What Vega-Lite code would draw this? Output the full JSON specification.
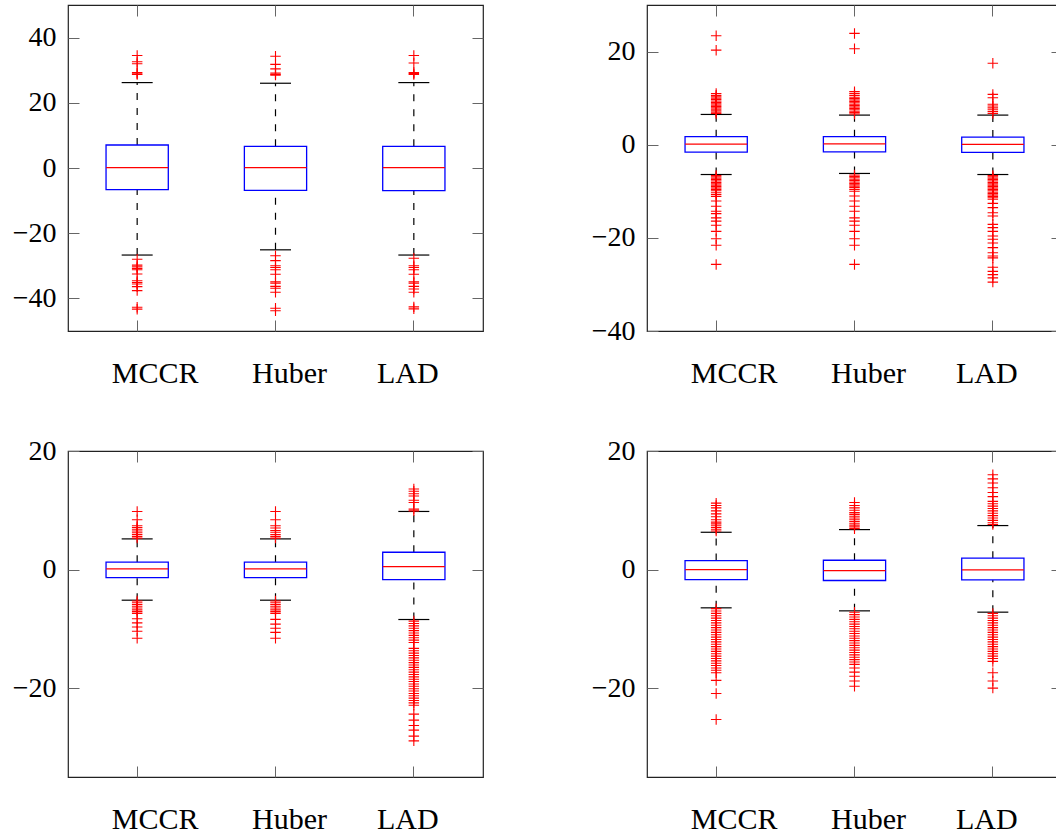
{
"$schema": "https://vega.github.io/schema/vega-lite/v6.json",
"background": "white",
"padding": {"left": 11, "top": 3, "right": -7, "bottom": 0},
"config": {"view": {"stroke": "#222", "strokeWidth": 1.2}, "axis": {"labelFont": "Liberation Serif, DejaVu Serif, serif"}},
"datasets": {
"boxes": [
{"p":1,"m":"MCCR","lo":-26.7,"q1":-6.65,"med":0.1,"q3":7.06,"hi":26.2},
{"p":1,"m":"Huber","lo":-25.1,"q1":-6.85,"med":0.1,"q3":6.65,"hi":26.0},
{"p":1,"m":"LAD","lo":-26.7,"q1":-6.95,"med":0.1,"q3":6.65,"hi":26.2},
{"p":2,"m":"MCCR","lo":-6.4,"q1":-1.59,"med":0.13,"q3":1.72,"hi":6.5},
{"p":2,"m":"Huber","lo":-6.17,"q1":-1.52,"med":0.2,"q3":1.72,"hi":6.36},
{"p":2,"m":"LAD","lo":-6.4,"q1":-1.65,"med":0.06,"q3":1.64,"hi":6.36},
{"p":3,"m":"MCCR","lo":-5.17,"q1":-1.35,"med":0.11,"q3":1.24,"hi":5.17},
{"p":3,"m":"Huber","lo":-5.17,"q1":-1.35,"med":0.11,"q3":1.24,"hi":5.17},
{"p":3,"m":"LAD","lo":-8.43,"q1":-1.69,"med":0.5,"q3":2.92,"hi":9.8},
{"p":4,"m":"MCCR","lo":-6.46,"q1":-1.69,"med":0.0,"q3":1.52,"hi":6.29},
{"p":4,"m":"Huber","lo":-6.97,"q1":-1.85,"med":-0.17,"q3":1.57,"hi":6.74},
{"p":4,"m":"LAD","lo":-7.19,"q1":-1.74,"med":-0.06,"q3":1.91,"hi":7.42}
],
"outl": [
{"p":1,"m":"MCCR","v":34.5},{"p":1,"m":"MCCR","v":32.6},{"p":1,"m":"MCCR","v":32.0},{"p":1,"m":"MCCR","v":29.3},{"p":1,"m":"MCCR","v":28.9},{"p":1,"m":"MCCR","v":28.7},
{"p":1,"m":"MCCR","v":-28.0},{"p":1,"m":"MCCR","v":-29.8},{"p":1,"m":"MCCR","v":-30.3},{"p":1,"m":"MCCR","v":-30.8},{"p":1,"m":"MCCR","v":-31.2},{"p":1,"m":"MCCR","v":-32.5},{"p":1,"m":"MCCR","v":-34.6},{"p":1,"m":"MCCR","v":-35.1},{"p":1,"m":"MCCR","v":-35.6},{"p":1,"m":"MCCR","v":-36.4},{"p":1,"m":"MCCR","v":-37.6},{"p":1,"m":"MCCR","v":-42.7},{"p":1,"m":"MCCR","v":-43.3},
{"p":1,"m":"Huber","v":34.3},{"p":1,"m":"Huber","v":31.8},{"p":1,"m":"Huber","v":30.4},{"p":1,"m":"Huber","v":29.1},{"p":1,"m":"Huber","v":28.7},{"p":1,"m":"Huber","v":28.5},
{"p":1,"m":"Huber","v":-26.9},{"p":1,"m":"Huber","v":-28.4},{"p":1,"m":"Huber","v":-30.0},{"p":1,"m":"Huber","v":-30.5},{"p":1,"m":"Huber","v":-31.2},{"p":1,"m":"Huber","v":-32.6},{"p":1,"m":"Huber","v":-34.9},{"p":1,"m":"Huber","v":-35.3},{"p":1,"m":"Huber","v":-36.3},{"p":1,"m":"Huber","v":-36.9},{"p":1,"m":"Huber","v":-38.1},{"p":1,"m":"Huber","v":-43.0},{"p":1,"m":"Huber","v":-43.8},
{"p":1,"m":"LAD","v":34.5},{"p":1,"m":"LAD","v":32.2},{"p":1,"m":"LAD","v":29.3},{"p":1,"m":"LAD","v":29.0},{"p":1,"m":"LAD","v":28.7},
{"p":1,"m":"LAD","v":-27.7},{"p":1,"m":"LAD","v":-30.0},{"p":1,"m":"LAD","v":-30.5},{"p":1,"m":"LAD","v":-31.2},{"p":1,"m":"LAD","v":-32.6},{"p":1,"m":"LAD","v":-34.9},{"p":1,"m":"LAD","v":-35.3},{"p":1,"m":"LAD","v":-36.3},{"p":1,"m":"LAD","v":-37.1},{"p":1,"m":"LAD","v":-38.1},{"p":1,"m":"LAD","v":-42.6},{"p":1,"m":"LAD","v":-43.2},

{"p":2,"m":"MCCR","v":23.4},{"p":2,"m":"MCCR","v":20.3},{"p":2,"m":"MCCR","v":6.7},{"p":2,"m":"MCCR","v":7.0},{"p":2,"m":"MCCR","v":7.3},{"p":2,"m":"MCCR","v":7.6},{"p":2,"m":"MCCR","v":7.9},{"p":2,"m":"MCCR","v":8.2},{"p":2,"m":"MCCR","v":8.5},{"p":2,"m":"MCCR","v":8.8},{"p":2,"m":"MCCR","v":9.1},{"p":2,"m":"MCCR","v":9.4},{"p":2,"m":"MCCR","v":9.7},{"p":2,"m":"MCCR","v":10.0},{"p":2,"m":"MCCR","v":10.3},{"p":2,"m":"MCCR","v":10.6},{"p":2,"m":"MCCR","v":11.0},
{"p":2,"m":"MCCR","v":-6.6},{"p":2,"m":"MCCR","v":-6.9},{"p":2,"m":"MCCR","v":-7.2},{"p":2,"m":"MCCR","v":-7.5},{"p":2,"m":"MCCR","v":-7.8},{"p":2,"m":"MCCR","v":-8.1},{"p":2,"m":"MCCR","v":-8.4},{"p":2,"m":"MCCR","v":-8.7},{"p":2,"m":"MCCR","v":-9.0},{"p":2,"m":"MCCR","v":-9.3},{"p":2,"m":"MCCR","v":-9.6},{"p":2,"m":"MCCR","v":-9.9},{"p":2,"m":"MCCR","v":-10.3},{"p":2,"m":"MCCR","v":-10.7},{"p":2,"m":"MCCR","v":-11.1},{"p":2,"m":"MCCR","v":-12.1},{"p":2,"m":"MCCR","v":-13.2},{"p":2,"m":"MCCR","v":-14.3},{"p":2,"m":"MCCR","v":-14.8},{"p":2,"m":"MCCR","v":-15.7},{"p":2,"m":"MCCR","v":-16.4},{"p":2,"m":"MCCR","v":-17.3},{"p":2,"m":"MCCR","v":-18.6},{"p":2,"m":"MCCR","v":-20.2},{"p":2,"m":"MCCR","v":-21.6},{"p":2,"m":"MCCR","v":-25.7},
{"p":2,"m":"Huber","v":23.9},{"p":2,"m":"Huber","v":20.6},{"p":2,"m":"Huber","v":6.6},{"p":2,"m":"Huber","v":6.9},{"p":2,"m":"Huber","v":7.2},{"p":2,"m":"Huber","v":7.5},{"p":2,"m":"Huber","v":7.8},{"p":2,"m":"Huber","v":8.1},{"p":2,"m":"Huber","v":8.4},{"p":2,"m":"Huber","v":8.7},{"p":2,"m":"Huber","v":9.0},{"p":2,"m":"Huber","v":9.3},{"p":2,"m":"Huber","v":9.6},{"p":2,"m":"Huber","v":9.9},{"p":2,"m":"Huber","v":10.2},{"p":2,"m":"Huber","v":10.6},{"p":2,"m":"Huber","v":11.0},{"p":2,"m":"Huber","v":11.4},
{"p":2,"m":"Huber","v":-6.5},{"p":2,"m":"Huber","v":-6.8},{"p":2,"m":"Huber","v":-7.1},{"p":2,"m":"Huber","v":-7.4},{"p":2,"m":"Huber","v":-7.7},{"p":2,"m":"Huber","v":-8.0},{"p":2,"m":"Huber","v":-8.3},{"p":2,"m":"Huber","v":-8.6},{"p":2,"m":"Huber","v":-8.9},{"p":2,"m":"Huber","v":-9.2},{"p":2,"m":"Huber","v":-9.6},{"p":2,"m":"Huber","v":-10.0},{"p":2,"m":"Huber","v":-11.0},{"p":2,"m":"Huber","v":-12.1},{"p":2,"m":"Huber","v":-13.2},{"p":2,"m":"Huber","v":-14.3},{"p":2,"m":"Huber","v":-15.7},{"p":2,"m":"Huber","v":-16.4},{"p":2,"m":"Huber","v":-17.3},{"p":2,"m":"Huber","v":-18.6},{"p":2,"m":"Huber","v":-20.2},{"p":2,"m":"Huber","v":-21.6},{"p":2,"m":"Huber","v":-25.7},
{"p":2,"m":"LAD","v":17.5},{"p":2,"m":"LAD","v":10.8},{"p":2,"m":"LAD","v":10.1},{"p":2,"m":"LAD","v":8.7},{"p":2,"m":"LAD","v":8.3},{"p":2,"m":"LAD","v":7.9},{"p":2,"m":"LAD","v":7.5},{"p":2,"m":"LAD","v":7.1},{"p":2,"m":"LAD","v":6.7},
{"p":2,"m":"LAD","v":-6.6},{"p":2,"m":"LAD","v":-6.9},{"p":2,"m":"LAD","v":-7.2},{"p":2,"m":"LAD","v":-7.5},{"p":2,"m":"LAD","v":-7.8},{"p":2,"m":"LAD","v":-8.1},{"p":2,"m":"LAD","v":-8.4},{"p":2,"m":"LAD","v":-8.7},{"p":2,"m":"LAD","v":-9.0},{"p":2,"m":"LAD","v":-9.3},{"p":2,"m":"LAD","v":-9.6},{"p":2,"m":"LAD","v":-9.9},{"p":2,"m":"LAD","v":-10.2},{"p":2,"m":"LAD","v":-10.5},{"p":2,"m":"LAD","v":-10.8},{"p":2,"m":"LAD","v":-11.1},{"p":2,"m":"LAD","v":-11.4},{"p":2,"m":"LAD","v":-11.7},{"p":2,"m":"LAD","v":-12.6},{"p":2,"m":"LAD","v":-13.5},{"p":2,"m":"LAD","v":-14.6},{"p":2,"m":"LAD","v":-15.3},{"p":2,"m":"LAD","v":-17.1},{"p":2,"m":"LAD","v":-17.8},{"p":2,"m":"LAD","v":-18.6},{"p":2,"m":"LAD","v":-19.6},{"p":2,"m":"LAD","v":-20.3},{"p":2,"m":"LAD","v":-21.1},{"p":2,"m":"LAD","v":-22.1},{"p":2,"m":"LAD","v":-23.2},{"p":2,"m":"LAD","v":-23.9},{"p":2,"m":"LAD","v":-24.3},{"p":2,"m":"LAD","v":-26.3},{"p":2,"m":"LAD","v":-27.2},{"p":2,"m":"LAD","v":-27.9},{"p":2,"m":"LAD","v":-28.6},{"p":2,"m":"LAD","v":-29.5},

{"p":3,"m":"MCCR","v":9.8},{"p":3,"m":"MCCR","v":8.4},{"p":3,"m":"MCCR","v":7.4},{"p":3,"m":"MCCR","v":7.1},{"p":3,"m":"MCCR","v":6.8},{"p":3,"m":"MCCR","v":6.5},{"p":3,"m":"MCCR","v":6.2},{"p":3,"m":"MCCR","v":5.9},{"p":3,"m":"MCCR","v":5.6},{"p":3,"m":"MCCR","v":5.3},
{"p":3,"m":"MCCR","v":-5.3},{"p":3,"m":"MCCR","v":-5.6},{"p":3,"m":"MCCR","v":-5.9},{"p":3,"m":"MCCR","v":-6.2},{"p":3,"m":"MCCR","v":-6.5},{"p":3,"m":"MCCR","v":-6.8},{"p":3,"m":"MCCR","v":-7.1},{"p":3,"m":"MCCR","v":-7.4},{"p":3,"m":"MCCR","v":-8.3},{"p":3,"m":"MCCR","v":-9.0},{"p":3,"m":"MCCR","v":-9.7},{"p":3,"m":"MCCR","v":-10.4},{"p":3,"m":"MCCR","v":-11.6},
{"p":3,"m":"Huber","v":9.8},{"p":3,"m":"Huber","v":8.4},{"p":3,"m":"Huber","v":7.4},{"p":3,"m":"Huber","v":7.0},{"p":3,"m":"Huber","v":6.6},{"p":3,"m":"Huber","v":6.3},{"p":3,"m":"Huber","v":5.9},{"p":3,"m":"Huber","v":5.6},{"p":3,"m":"Huber","v":5.3},
{"p":3,"m":"Huber","v":-5.3},{"p":3,"m":"Huber","v":-5.6},{"p":3,"m":"Huber","v":-5.9},{"p":3,"m":"Huber","v":-6.2},{"p":3,"m":"Huber","v":-6.5},{"p":3,"m":"Huber","v":-6.8},{"p":3,"m":"Huber","v":-7.1},{"p":3,"m":"Huber","v":-7.4},{"p":3,"m":"Huber","v":-8.4},{"p":3,"m":"Huber","v":-9.2},{"p":3,"m":"Huber","v":-9.9},{"p":3,"m":"Huber","v":-10.6},{"p":3,"m":"Huber","v":-11.6},
{"p":3,"m":"LAD","v":13.6},{"p":3,"m":"LAD","v":13.2},{"p":3,"m":"LAD","v":12.8},{"p":3,"m":"LAD","v":12.4},{"p":3,"m":"LAD","v":11.7},{"p":3,"m":"LAD","v":11.3},{"p":3,"m":"LAD","v":10.2},{"p":3,"m":"LAD","v":9.9},
{"p":3,"m":"LAD","v":-8.7},{"p":3,"m":"LAD","v":-9.1},{"p":3,"m":"LAD","v":-9.5},{"p":3,"m":"LAD","v":-9.9},{"p":3,"m":"LAD","v":-10.3},{"p":3,"m":"LAD","v":-10.7},{"p":3,"m":"LAD","v":-11.1},{"p":3,"m":"LAD","v":-11.5},{"p":3,"m":"LAD","v":-11.9},{"p":3,"m":"LAD","v":-12.3},{"p":3,"m":"LAD","v":-13.3},{"p":3,"m":"LAD","v":-13.7},{"p":3,"m":"LAD","v":-14.1},{"p":3,"m":"LAD","v":-14.5},{"p":3,"m":"LAD","v":-14.9},{"p":3,"m":"LAD","v":-15.3},{"p":3,"m":"LAD","v":-15.7},{"p":3,"m":"LAD","v":-16.1},{"p":3,"m":"LAD","v":-16.5},{"p":3,"m":"LAD","v":-16.9},{"p":3,"m":"LAD","v":-17.3},{"p":3,"m":"LAD","v":-17.7},{"p":3,"m":"LAD","v":-18.1},{"p":3,"m":"LAD","v":-18.5},{"p":3,"m":"LAD","v":-18.9},{"p":3,"m":"LAD","v":-19.3},{"p":3,"m":"LAD","v":-19.7},{"p":3,"m":"LAD","v":-20.1},{"p":3,"m":"LAD","v":-20.5},{"p":3,"m":"LAD","v":-20.9},{"p":3,"m":"LAD","v":-21.3},{"p":3,"m":"LAD","v":-21.7},{"p":3,"m":"LAD","v":-22.1},{"p":3,"m":"LAD","v":-22.5},{"p":3,"m":"LAD","v":-22.9},{"p":3,"m":"LAD","v":-24.4},{"p":3,"m":"LAD","v":-25.4},{"p":3,"m":"LAD","v":-26.3},{"p":3,"m":"LAD","v":-27.1},{"p":3,"m":"LAD","v":-28.1},{"p":3,"m":"LAD","v":-28.9},

{"p":4,"m":"MCCR","v":6.5},{"p":4,"m":"MCCR","v":6.8},{"p":4,"m":"MCCR","v":7.1},{"p":4,"m":"MCCR","v":7.4},{"p":4,"m":"MCCR","v":7.7},{"p":4,"m":"MCCR","v":8.0},{"p":4,"m":"MCCR","v":8.4},{"p":4,"m":"MCCR","v":8.9},{"p":4,"m":"MCCR","v":9.4},{"p":4,"m":"MCCR","v":9.9},{"p":4,"m":"MCCR","v":10.4},{"p":4,"m":"MCCR","v":10.8},{"p":4,"m":"MCCR","v":11.2},
{"p":4,"m":"MCCR","v":-6.6},{"p":4,"m":"MCCR","v":-7.0},{"p":4,"m":"MCCR","v":-7.4},{"p":4,"m":"MCCR","v":-7.8},{"p":4,"m":"MCCR","v":-8.2},{"p":4,"m":"MCCR","v":-8.6},{"p":4,"m":"MCCR","v":-9.0},{"p":4,"m":"MCCR","v":-9.4},{"p":4,"m":"MCCR","v":-9.8},{"p":4,"m":"MCCR","v":-10.2},{"p":4,"m":"MCCR","v":-10.6},{"p":4,"m":"MCCR","v":-11.0},{"p":4,"m":"MCCR","v":-11.4},{"p":4,"m":"MCCR","v":-11.8},{"p":4,"m":"MCCR","v":-12.2},{"p":4,"m":"MCCR","v":-12.6},{"p":4,"m":"MCCR","v":-13.0},{"p":4,"m":"MCCR","v":-13.4},{"p":4,"m":"MCCR","v":-13.8},{"p":4,"m":"MCCR","v":-14.2},{"p":4,"m":"MCCR","v":-14.6},{"p":4,"m":"MCCR","v":-15.0},{"p":4,"m":"MCCR","v":-15.4},{"p":4,"m":"MCCR","v":-15.8},{"p":4,"m":"MCCR","v":-16.2},{"p":4,"m":"MCCR","v":-16.6},{"p":4,"m":"MCCR","v":-17.0},{"p":4,"m":"MCCR","v":-17.4},{"p":4,"m":"MCCR","v":-18.7},{"p":4,"m":"MCCR","v":-20.9},{"p":4,"m":"MCCR","v":-25.3},
{"p":4,"m":"Huber","v":6.9},{"p":4,"m":"Huber","v":7.2},{"p":4,"m":"Huber","v":7.5},{"p":4,"m":"Huber","v":7.8},{"p":4,"m":"Huber","v":8.1},{"p":4,"m":"Huber","v":8.4},{"p":4,"m":"Huber","v":8.7},{"p":4,"m":"Huber","v":9.0},{"p":4,"m":"Huber","v":9.3},{"p":4,"m":"Huber","v":9.6},{"p":4,"m":"Huber","v":10.0},{"p":4,"m":"Huber","v":10.4},{"p":4,"m":"Huber","v":10.8},{"p":4,"m":"Huber","v":11.3},
{"p":4,"m":"Huber","v":-7.2},{"p":4,"m":"Huber","v":-7.6},{"p":4,"m":"Huber","v":-8.0},{"p":4,"m":"Huber","v":-8.4},{"p":4,"m":"Huber","v":-8.8},{"p":4,"m":"Huber","v":-9.2},{"p":4,"m":"Huber","v":-9.6},{"p":4,"m":"Huber","v":-10.0},{"p":4,"m":"Huber","v":-10.4},{"p":4,"m":"Huber","v":-10.8},{"p":4,"m":"Huber","v":-11.2},{"p":4,"m":"Huber","v":-11.6},{"p":4,"m":"Huber","v":-12.0},{"p":4,"m":"Huber","v":-12.4},{"p":4,"m":"Huber","v":-12.8},{"p":4,"m":"Huber","v":-13.2},{"p":4,"m":"Huber","v":-13.6},{"p":4,"m":"Huber","v":-14.0},{"p":4,"m":"Huber","v":-14.4},{"p":4,"m":"Huber","v":-14.8},{"p":4,"m":"Huber","v":-15.2},{"p":4,"m":"Huber","v":-15.6},{"p":4,"m":"Huber","v":-16.0},{"p":4,"m":"Huber","v":-16.6},{"p":4,"m":"Huber","v":-17.3},{"p":4,"m":"Huber","v":-18.0},{"p":4,"m":"Huber","v":-18.8},{"p":4,"m":"Huber","v":-19.7},
{"p":4,"m":"LAD","v":16.0},{"p":4,"m":"LAD","v":15.3},{"p":4,"m":"LAD","v":14.6},{"p":4,"m":"LAD","v":13.8},{"p":4,"m":"LAD","v":13.0},{"p":4,"m":"LAD","v":12.3},{"p":4,"m":"LAD","v":11.5},{"p":4,"m":"LAD","v":11.1},{"p":4,"m":"LAD","v":10.7},{"p":4,"m":"LAD","v":10.3},{"p":4,"m":"LAD","v":9.9},{"p":4,"m":"LAD","v":9.5},{"p":4,"m":"LAD","v":9.1},{"p":4,"m":"LAD","v":8.7},{"p":4,"m":"LAD","v":8.3},{"p":4,"m":"LAD","v":7.9},{"p":4,"m":"LAD","v":7.6},
{"p":4,"m":"LAD","v":-7.4},{"p":4,"m":"LAD","v":-7.8},{"p":4,"m":"LAD","v":-8.2},{"p":4,"m":"LAD","v":-8.6},{"p":4,"m":"LAD","v":-9.0},{"p":4,"m":"LAD","v":-9.4},{"p":4,"m":"LAD","v":-9.8},{"p":4,"m":"LAD","v":-10.2},{"p":4,"m":"LAD","v":-10.6},{"p":4,"m":"LAD","v":-11.0},{"p":4,"m":"LAD","v":-11.4},{"p":4,"m":"LAD","v":-11.8},{"p":4,"m":"LAD","v":-12.2},{"p":4,"m":"LAD","v":-12.6},{"p":4,"m":"LAD","v":-13.0},{"p":4,"m":"LAD","v":-13.4},{"p":4,"m":"LAD","v":-13.8},{"p":4,"m":"LAD","v":-14.2},{"p":4,"m":"LAD","v":-14.6},{"p":4,"m":"LAD","v":-15.0},{"p":4,"m":"LAD","v":-15.5},{"p":4,"m":"LAD","v":-17.4},{"p":4,"m":"LAD","v":-18.8},{"p":4,"m":"LAD","v":-20.0}
]
},
"columns": 2,
"spacing": {"row": 120, "column": 164},
"bounds": "flush",
"concat": [
{
"width": 415, "height": 326,
"resolve": {"axis": {"x": "independent", "y": "independent"}},
"layer": [
{"data": {"name": "boxes"}, "transform": [{"filter": "datum.p == 1"}],
 "mark": {"type": "rule", "color": "black", "strokeWidth": 1.2, "strokeDash": [7, 8]},
 "encoding": {
  "x": {"field": "m", "type": "nominal", "sort": ["MCCR", "Huber", "LAD"], "scale": {"paddingInner": 0, "paddingOuter": 0},
   "axis": {"orient": "bottom", "title": null, "domain": false, "labelFont": "Liberation Serif, DejaVu Serif, serif", "labelFontSize": 30, "labelColor": "black", "labelAngle": 0, "labelBaseline": "alphabetic", "labelPadding": 62, "tickSize": -11, "tickColor": "#666", "tickWidth": 1,
    "labelOffset": {"condition": [{"test": "datum.value == 'MCCR'", "value": 18}, {"test": "datum.value == 'Huber'", "value": 14}], "value": -6}}},
  "y": {"field": "q3", "type": "quantitative", "scale": {"domain": [-50, 50], "nice": false, "zero": false},
   "axis": {"orient": "left", "title": null, "values": [-40, -20, 0, 20, 40], "domain": false, "grid": false, "labelFont": "Liberation Serif, DejaVu Serif, serif", "labelFontSize": 28, "labelColor": "black", "labelPadding": 23, "tickSize": -11, "tickColor": "#666", "tickWidth": 1}},
  "y2": {"field": "hi"}}},
{"data": {"name": "boxes"}, "transform": [{"filter": "datum.p == 1"}],
 "mark": {"type": "rule", "color": "black", "strokeWidth": 1.2, "strokeDash": [7, 8]},
 "encoding": {
  "x": {"field": "m", "type": "nominal", "sort": ["MCCR", "Huber", "LAD"], "axis": {"orient": "top", "title": null, "domain": false, "labels": false, "tickSize": -11, "tickColor": "#666", "tickWidth": 1}},
  "y": {"field": "lo", "type": "quantitative", "axis": {"orient": "right", "title": null, "values": [-40, -20, 0, 20, 40], "domain": false, "grid": false, "labels": false, "tickSize": -11, "tickColor": "#666", "tickWidth": 1}},
  "y2": {"field": "q1"}}},
{"data": {"name": "boxes"}, "transform": [{"filter": "datum.p == 1"}],
 "mark": {"type": "bar", "fill": "white", "stroke": "#0000ff", "strokeWidth": 1.3, "width": {"band": 0.45}},
 "encoding": {"x": {"field": "m", "type": "nominal", "sort": ["MCCR", "Huber", "LAD"], "axis": null}, "y": {"field": "q1", "type": "quantitative", "axis": null}, "y2": {"field": "q3"}}},
{"data": {"name": "boxes"}, "transform": [{"filter": "datum.p == 1"}],
 "mark": {"type": "tick", "color": "#ff0000", "size": 62, "thickness": 1.2, "opacity": 1},
 "encoding": {"x": {"field": "m", "type": "nominal", "sort": ["MCCR", "Huber", "LAD"], "axis": null}, "y": {"field": "med", "type": "quantitative", "axis": null}}},
{"data": {"name": "boxes"}, "transform": [{"filter": "datum.p == 1"}],
 "mark": {"type": "tick", "color": "black", "size": 31, "thickness": 1.2, "opacity": 1},
 "encoding": {"x": {"field": "m", "type": "nominal", "sort": ["MCCR", "Huber", "LAD"], "axis": null}, "y": {"field": "hi", "type": "quantitative", "axis": null}}},
{"data": {"name": "boxes"}, "transform": [{"filter": "datum.p == 1"}],
 "mark": {"type": "tick", "color": "black", "size": 31, "thickness": 1.2, "opacity": 1},
 "encoding": {"x": {"field": "m", "type": "nominal", "sort": ["MCCR", "Huber", "LAD"], "axis": null}, "y": {"field": "lo", "type": "quantitative", "axis": null}}},
{"data": {"name": "outl"}, "transform": [{"filter": "datum.p == 1"}],
 "mark": {"type": "point", "shape": "M-1,0L1,0M0,-1L0,1", "size": 110, "filled": false, "stroke": "#ff0000", "strokeWidth": 1.1, "opacity": 1},
 "encoding": {"x": {"field": "m", "type": "nominal", "sort": ["MCCR", "Huber", "LAD"], "axis": null}, "y": {"field": "v", "type": "quantitative", "axis": null}}}
]
},
{
"width": 415, "height": 326,
"resolve": {"axis": {"x": "independent", "y": "independent"}},
"layer": [
{"data": {"name": "boxes"}, "transform": [{"filter": "datum.p == 2"}],
 "mark": {"type": "rule", "color": "black", "strokeWidth": 1.2, "strokeDash": [7, 8]},
 "encoding": {
  "x": {"field": "m", "type": "nominal", "sort": ["MCCR", "Huber", "LAD"], "scale": {"paddingInner": 0, "paddingOuter": 0},
   "axis": {"orient": "bottom", "title": null, "domain": false, "labelFont": "Liberation Serif, DejaVu Serif, serif", "labelFontSize": 30, "labelColor": "black", "labelAngle": 0, "labelBaseline": "alphabetic", "labelPadding": 62, "tickSize": -11, "tickColor": "#666", "tickWidth": 1,
    "labelOffset": {"condition": [{"test": "datum.value == 'MCCR'", "value": 18}, {"test": "datum.value == 'Huber'", "value": 14}], "value": -6}}},
  "y": {"field": "q3", "type": "quantitative", "scale": {"domain": [-40, 30], "nice": false, "zero": false},
   "axis": {"orient": "left", "title": null, "values": [-40, -20, 0, 20], "domain": false, "grid": false, "labelFont": "Liberation Serif, DejaVu Serif, serif", "labelFontSize": 28, "labelColor": "black", "labelPadding": 23, "tickSize": -11, "tickColor": "#666", "tickWidth": 1}},
  "y2": {"field": "hi"}}},
{"data": {"name": "boxes"}, "transform": [{"filter": "datum.p == 2"}],
 "mark": {"type": "rule", "color": "black", "strokeWidth": 1.2, "strokeDash": [7, 8]},
 "encoding": {
  "x": {"field": "m", "type": "nominal", "sort": ["MCCR", "Huber", "LAD"], "axis": {"orient": "top", "title": null, "domain": false, "labels": false, "tickSize": -11, "tickColor": "#666", "tickWidth": 1}},
  "y": {"field": "lo", "type": "quantitative", "axis": {"orient": "right", "title": null, "values": [-40, -20, 0, 20], "domain": false, "grid": false, "labels": false, "tickSize": -11, "tickColor": "#666", "tickWidth": 1}},
  "y2": {"field": "q1"}}},
{"data": {"name": "boxes"}, "transform": [{"filter": "datum.p == 2"}],
 "mark": {"type": "bar", "fill": "white", "stroke": "#0000ff", "strokeWidth": 1.3, "width": {"band": 0.45}},
 "encoding": {"x": {"field": "m", "type": "nominal", "sort": ["MCCR", "Huber", "LAD"], "axis": null}, "y": {"field": "q1", "type": "quantitative", "axis": null}, "y2": {"field": "q3"}}},
{"data": {"name": "boxes"}, "transform": [{"filter": "datum.p == 2"}],
 "mark": {"type": "tick", "color": "#ff0000", "size": 62, "thickness": 1.2, "opacity": 1},
 "encoding": {"x": {"field": "m", "type": "nominal", "sort": ["MCCR", "Huber", "LAD"], "axis": null}, "y": {"field": "med", "type": "quantitative", "axis": null}}},
{"data": {"name": "boxes"}, "transform": [{"filter": "datum.p == 2"}],
 "mark": {"type": "tick", "color": "black", "size": 31, "thickness": 1.2, "opacity": 1},
 "encoding": {"x": {"field": "m", "type": "nominal", "sort": ["MCCR", "Huber", "LAD"], "axis": null}, "y": {"field": "hi", "type": "quantitative", "axis": null}}},
{"data": {"name": "boxes"}, "transform": [{"filter": "datum.p == 2"}],
 "mark": {"type": "tick", "color": "black", "size": 31, "thickness": 1.2, "opacity": 1},
 "encoding": {"x": {"field": "m", "type": "nominal", "sort": ["MCCR", "Huber", "LAD"], "axis": null}, "y": {"field": "lo", "type": "quantitative", "axis": null}}},
{"data": {"name": "outl"}, "transform": [{"filter": "datum.p == 2"}],
 "mark": {"type": "point", "shape": "M-1,0L1,0M0,-1L0,1", "size": 110, "filled": false, "stroke": "#ff0000", "strokeWidth": 1.1, "opacity": 1},
 "encoding": {"x": {"field": "m", "type": "nominal", "sort": ["MCCR", "Huber", "LAD"], "axis": null}, "y": {"field": "v", "type": "quantitative", "axis": null}}}
]
},
{
"width": 415, "height": 326,
"resolve": {"axis": {"x": "independent", "y": "independent"}},
"layer": [
{"data": {"name": "boxes"}, "transform": [{"filter": "datum.p == 3"}],
 "mark": {"type": "rule", "color": "black", "strokeWidth": 1.2, "strokeDash": [7, 8]},
 "encoding": {
  "x": {"field": "m", "type": "nominal", "sort": ["MCCR", "Huber", "LAD"], "scale": {"paddingInner": 0, "paddingOuter": 0},
   "axis": {"orient": "bottom", "title": null, "domain": false, "labelFont": "Liberation Serif, DejaVu Serif, serif", "labelFontSize": 30, "labelColor": "black", "labelAngle": 0, "labelBaseline": "alphabetic", "labelPadding": 62, "tickSize": -11, "tickColor": "#666", "tickWidth": 1,
    "labelOffset": {"condition": [{"test": "datum.value == 'MCCR'", "value": 18}, {"test": "datum.value == 'Huber'", "value": 14}], "value": -6}}},
  "y": {"field": "q3", "type": "quantitative", "scale": {"domain": [-35, 20], "nice": false, "zero": false},
   "axis": {"orient": "left", "title": null, "values": [-20, 0, 20], "domain": false, "grid": false, "labelFont": "Liberation Serif, DejaVu Serif, serif", "labelFontSize": 28, "labelColor": "black", "labelPadding": 23, "tickSize": -11, "tickColor": "#666", "tickWidth": 1}},
  "y2": {"field": "hi"}}},
{"data": {"name": "boxes"}, "transform": [{"filter": "datum.p == 3"}],
 "mark": {"type": "rule", "color": "black", "strokeWidth": 1.2, "strokeDash": [7, 8]},
 "encoding": {
  "x": {"field": "m", "type": "nominal", "sort": ["MCCR", "Huber", "LAD"], "axis": {"orient": "top", "title": null, "domain": false, "labels": false, "tickSize": -11, "tickColor": "#666", "tickWidth": 1}},
  "y": {"field": "lo", "type": "quantitative", "axis": {"orient": "right", "title": null, "values": [-20, 0, 20], "domain": false, "grid": false, "labels": false, "tickSize": -11, "tickColor": "#666", "tickWidth": 1}},
  "y2": {"field": "q1"}}},
{"data": {"name": "boxes"}, "transform": [{"filter": "datum.p == 3"}],
 "mark": {"type": "bar", "fill": "white", "stroke": "#0000ff", "strokeWidth": 1.3, "width": {"band": 0.45}},
 "encoding": {"x": {"field": "m", "type": "nominal", "sort": ["MCCR", "Huber", "LAD"], "axis": null}, "y": {"field": "q1", "type": "quantitative", "axis": null}, "y2": {"field": "q3"}}},
{"data": {"name": "boxes"}, "transform": [{"filter": "datum.p == 3"}],
 "mark": {"type": "tick", "color": "#ff0000", "size": 62, "thickness": 1.2, "opacity": 1},
 "encoding": {"x": {"field": "m", "type": "nominal", "sort": ["MCCR", "Huber", "LAD"], "axis": null}, "y": {"field": "med", "type": "quantitative", "axis": null}}},
{"data": {"name": "boxes"}, "transform": [{"filter": "datum.p == 3"}],
 "mark": {"type": "tick", "color": "black", "size": 31, "thickness": 1.2, "opacity": 1},
 "encoding": {"x": {"field": "m", "type": "nominal", "sort": ["MCCR", "Huber", "LAD"], "axis": null}, "y": {"field": "hi", "type": "quantitative", "axis": null}}},
{"data": {"name": "boxes"}, "transform": [{"filter": "datum.p == 3"}],
 "mark": {"type": "tick", "color": "black", "size": 31, "thickness": 1.2, "opacity": 1},
 "encoding": {"x": {"field": "m", "type": "nominal", "sort": ["MCCR", "Huber", "LAD"], "axis": null}, "y": {"field": "lo", "type": "quantitative", "axis": null}}},
{"data": {"name": "outl"}, "transform": [{"filter": "datum.p == 3"}],
 "mark": {"type": "point", "shape": "M-1,0L1,0M0,-1L0,1", "size": 110, "filled": false, "stroke": "#ff0000", "strokeWidth": 1.1, "opacity": 1},
 "encoding": {"x": {"field": "m", "type": "nominal", "sort": ["MCCR", "Huber", "LAD"], "axis": null}, "y": {"field": "v", "type": "quantitative", "axis": null}}}
]
},
{
"width": 415, "height": 326,
"resolve": {"axis": {"x": "independent", "y": "independent"}},
"layer": [
{"data": {"name": "boxes"}, "transform": [{"filter": "datum.p == 4"}],
 "mark": {"type": "rule", "color": "black", "strokeWidth": 1.2, "strokeDash": [7, 8]},
 "encoding": {
  "x": {"field": "m", "type": "nominal", "sort": ["MCCR", "Huber", "LAD"], "scale": {"paddingInner": 0, "paddingOuter": 0},
   "axis": {"orient": "bottom", "title": null, "domain": false, "labelFont": "Liberation Serif, DejaVu Serif, serif", "labelFontSize": 30, "labelColor": "black", "labelAngle": 0, "labelBaseline": "alphabetic", "labelPadding": 62, "tickSize": -11, "tickColor": "#666", "tickWidth": 1,
    "labelOffset": {"condition": [{"test": "datum.value == 'MCCR'", "value": 18}, {"test": "datum.value == 'Huber'", "value": 14}], "value": -6}}},
  "y": {"field": "q3", "type": "quantitative", "scale": {"domain": [-35, 20], "nice": false, "zero": false},
   "axis": {"orient": "left", "title": null, "values": [-20, 0, 20], "domain": false, "grid": false, "labelFont": "Liberation Serif, DejaVu Serif, serif", "labelFontSize": 28, "labelColor": "black", "labelPadding": 23, "tickSize": -11, "tickColor": "#666", "tickWidth": 1}},
  "y2": {"field": "hi"}}},
{"data": {"name": "boxes"}, "transform": [{"filter": "datum.p == 4"}],
 "mark": {"type": "rule", "color": "black", "strokeWidth": 1.2, "strokeDash": [7, 8]},
 "encoding": {
  "x": {"field": "m", "type": "nominal", "sort": ["MCCR", "Huber", "LAD"], "axis": {"orient": "top", "title": null, "domain": false, "labels": false, "tickSize": -11, "tickColor": "#666", "tickWidth": 1}},
  "y": {"field": "lo", "type": "quantitative", "axis": {"orient": "right", "title": null, "values": [-20, 0, 20], "domain": false, "grid": false, "labels": false, "tickSize": -11, "tickColor": "#666", "tickWidth": 1}},
  "y2": {"field": "q1"}}},
{"data": {"name": "boxes"}, "transform": [{"filter": "datum.p == 4"}],
 "mark": {"type": "bar", "fill": "white", "stroke": "#0000ff", "strokeWidth": 1.3, "width": {"band": 0.45}},
 "encoding": {"x": {"field": "m", "type": "nominal", "sort": ["MCCR", "Huber", "LAD"], "axis": null}, "y": {"field": "q1", "type": "quantitative", "axis": null}, "y2": {"field": "q3"}}},
{"data": {"name": "boxes"}, "transform": [{"filter": "datum.p == 4"}],
 "mark": {"type": "tick", "color": "#ff0000", "size": 62, "thickness": 1.2, "opacity": 1},
 "encoding": {"x": {"field": "m", "type": "nominal", "sort": ["MCCR", "Huber", "LAD"], "axis": null}, "y": {"field": "med", "type": "quantitative", "axis": null}}},
{"data": {"name": "boxes"}, "transform": [{"filter": "datum.p == 4"}],
 "mark": {"type": "tick", "color": "black", "size": 31, "thickness": 1.2, "opacity": 1},
 "encoding": {"x": {"field": "m", "type": "nominal", "sort": ["MCCR", "Huber", "LAD"], "axis": null}, "y": {"field": "hi", "type": "quantitative", "axis": null}}},
{"data": {"name": "boxes"}, "transform": [{"filter": "datum.p == 4"}],
 "mark": {"type": "tick", "color": "black", "size": 31, "thickness": 1.2, "opacity": 1},
 "encoding": {"x": {"field": "m", "type": "nominal", "sort": ["MCCR", "Huber", "LAD"], "axis": null}, "y": {"field": "lo", "type": "quantitative", "axis": null}}},
{"data": {"name": "outl"}, "transform": [{"filter": "datum.p == 4"}],
 "mark": {"type": "point", "shape": "M-1,0L1,0M0,-1L0,1", "size": 110, "filled": false, "stroke": "#ff0000", "strokeWidth": 1.1, "opacity": 1},
 "encoding": {"x": {"field": "m", "type": "nominal", "sort": ["MCCR", "Huber", "LAD"], "axis": null}, "y": {"field": "v", "type": "quantitative", "axis": null}}}
]
}
]
}
